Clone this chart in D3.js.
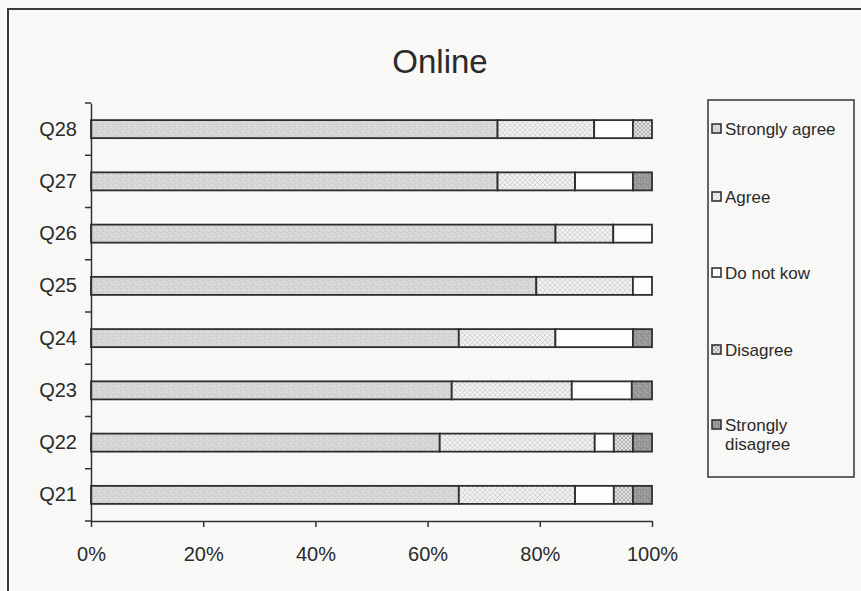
<!DOCTYPE html>
<html>
<head>
<meta charset="utf-8">
<script src="https://cdn.jsdelivr.net/npm/d3@7"></script>
<style>
  html, body { margin: 0; padding: 0; background: #f8f8f6; }
  svg { display: block; }
  text { font-family: "Liberation Sans", Arial, sans-serif; fill: #2a2a2a; }
</style>
</head>
<body>
<svg id="chart" width="861" height="591"></svg>
<script>
// Survey responses (percent of respondents) per question
const categories = ["Q28", "Q27", "Q26", "Q25", "Q24", "Q23", "Q22", "Q21"];
const seriesNames = ["Strongly agree", "Agree", "Do not kow", "Disagree", "Strongly disagree"];
const stronglyAgree    = [72.4, 72.4, 82.8, 79.3, 65.5, 64.3, 62.1, 65.5];
const agree            = [17.2, 13.8, 10.3, 17.2, 17.2, 21.4, 27.6, 20.7];
const doNotKnow        = [ 6.9, 10.3,  6.9,  3.4, 13.8, 10.7,  3.4,  6.9];
const disagree         = [ 3.4,  0.0,  0.0,  0.0,  0.0,  0.0,  3.4,  3.4];
const stronglyDisagree = [ 0.0,  3.4,  0.0,  0.0,  3.4,  3.6,  3.4,  3.4];
const xTicks = [0, 0.2, 0.4, 0.6, 0.8, 1.0];

const seriesValues = [stronglyAgree, agree, doNotKnow, disagree, stronglyDisagree];
const rows = categories.map((c, i) => {
  const r = { cat: c };
  seriesNames.forEach((s, k) => { r[s] = seriesValues[k][i]; });
  return r;
});

const svg = d3.select("#chart");
const defs = svg.append("defs");

// Fill patterns for each response level
function speckle(id, base, dots) {
  const p = defs.append("pattern").attr("id", id)
    .attr("patternUnits", "userSpaceOnUse").attr("width", 6).attr("height", 6);
  p.append("rect").attr("width", 6).attr("height", 6).attr("fill", base);
  dots.forEach(([x, y, c]) => p.append("rect").attr("x", x).attr("y", y)
    .attr("width", 1).attr("height", 1).attr("fill", c));
}
function hatch(id, base, line, size) {
  const p = defs.append("pattern").attr("id", id)
    .attr("patternUnits", "userSpaceOnUse").attr("width", size).attr("height", size);
  p.append("rect").attr("width", size).attr("height", size).attr("fill", base);
  p.append("path").attr("d", `M0,0L${size},${size}M${size},0L0,${size}`)
    .attr("stroke", line).attr("stroke-width", 0.7);
}
speckle("pSA", "#d6d6d6", [[0,0,"#c4c4c4"],[3,1,"#e4e4e4"],[1,3,"#c9c9c9"],[4,4,"#c2c2c2"],[5,2,"#e2e2e2"],[2,5,"#e6e6e6"]]);
hatch("pA", "#f1f1f1", "#c8c8c8", 5);
hatch("pD", "#e4e4e4", "#9c9c9c", 4);
speckle("pSD", "#989898", [[0,0,"#838383"],[3,1,"#aeaeae"],[1,3,"#888888"],[4,4,"#808080"],[5,2,"#ababab"],[2,5,"#b1b1b1"]]);
const fills = ["url(#pSA)", "url(#pA)", "#fdfdfd", "url(#pD)", "url(#pSD)"];

// Outer frame
svg.append("rect").attr("x", 8).attr("y", 9).attr("width", 900).attr("height", 700)
  .attr("fill", "none").attr("stroke", "#3a3a3a").attr("stroke-width", 2);

// Title
svg.append("text").attr("x", 440).attr("y", 73).attr("text-anchor", "middle")
  .style("font-size", "33px").text("Online");

// Scales
const pad = 0.655;
const x = d3.scaleLinear().domain([0, 1]).range([91, 652]);
const y = d3.scaleBand().domain(categories).range([103, 521])
  .paddingInner(pad).paddingOuter(pad / 2);

const stack = d3.stack().keys(seriesNames).offset(d3.stackOffsetExpand);
const layers = stack(rows);

// Bars
svg.append("g").selectAll("g").data(layers).join("g")
  .attr("fill", (d, i) => fills[i])
  .selectAll("rect").data(d => d.filter(s => s[1] - s[0] > 0)).join("rect")
  .attr("x", d => x(d[0]))
  .attr("width", d => x(d[1]) - x(d[0]))
  .attr("y", d => y(d.data.cat))
  .attr("height", y.bandwidth())
  .attr("stroke", "#2e2e2e").attr("stroke-width", 1.8);

// X axis
const xAxis = svg.append("g").attr("transform", "translate(0,521)")
  .call(d3.axisBottom(x).tickValues(xTicks).tickFormat(d3.format(".0%"))
    .tickSize(6).tickSizeOuter(0).tickPadding(20));
xAxis.select(".domain").attr("stroke", "#333").attr("stroke-width", 1.5);
xAxis.selectAll(".tick line").attr("stroke", "#333").attr("stroke-width", 1.5);
xAxis.selectAll("text").style("font-size", "20px").attr("fill", "#2a2a2a")
  .style("font-family", "'Liberation Sans', Arial, sans-serif");

// Y axis: labels at category centres, ticks at category boundaries
const yAxis = svg.append("g").attr("transform", "translate(91,0)")
  .call(d3.axisLeft(y).tickSize(0).tickSizeOuter(0).tickPadding(14));
yAxis.select(".domain").attr("stroke", "#333").attr("stroke-width", 1.5);
yAxis.selectAll("text").style("font-size", "20px").attr("fill", "#2a2a2a")
  .style("font-family", "'Liberation Sans', Arial, sans-serif");
const boundaries = categories.map(c => y(c) - y.step() * pad / 2)
  .concat([y(categories[categories.length - 1]) + y.bandwidth() + y.step() * pad / 2]);
yAxis.selectAll(".bound").data(boundaries).join("line").attr("class", "bound")
  .attr("x1", -6).attr("x2", 0).attr("y1", d => d).attr("y2", d => d)
  .attr("stroke", "#333").attr("stroke-width", 1.5);

// Legend
const legend = svg.append("g");
legend.append("rect").attr("x", 708).attr("y", 100).attr("width", 146).attr("height", 377)
  .attr("fill", "none").attr("stroke", "#333").attr("stroke-width", 1.5);
const legendY = [129, 197, 273, 350, 425];
const legendLines = [["Strongly agree"], ["Agree"], ["Do not kow"], ["Disagree"], ["Strongly", "disagree"]];
seriesNames.forEach((s, i) => {
  legend.append("rect").attr("x", 712).attr("y", legendY[i] - 5).attr("width", 9).attr("height", 9)
    .attr("fill", fills[i]).attr("stroke", "#333").attr("stroke-width", 1.6);
  const t = legend.append("text").attr("x", 724).attr("y", legendY[i] + 6)
    .style("font-size", "17px");
  legendLines[i].forEach((ln, k) => {
    t.append("tspan").attr("x", 725).attr("dy", k === 0 ? 0 : 19).text(ln);
  });
});
</script>
</body>
</html>
